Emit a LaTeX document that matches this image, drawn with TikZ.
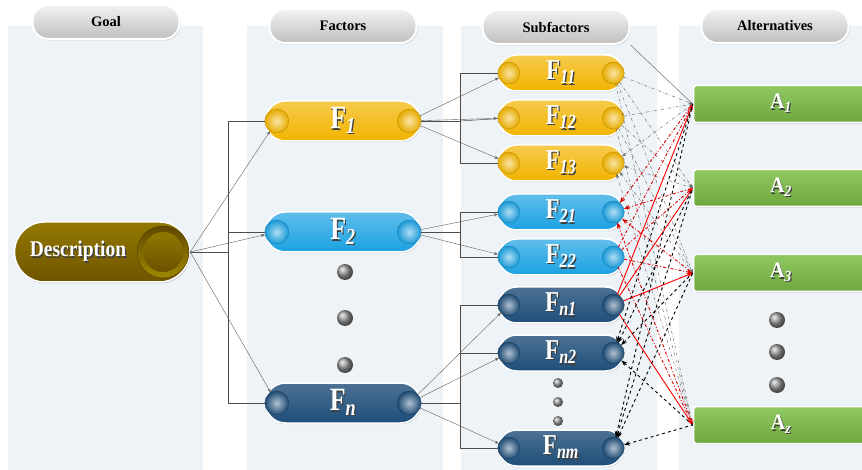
\documentclass[tikz,border=0pt]{standalone}
\usepackage{fontspec}
\usepackage{graphicx}
\setmainfont{Liberation Serif}
\usetikzlibrary{positioning,arrows.meta,shapes.misc,shadows}

\definecolor{panel}{RGB}{238,243,248}
\definecolor{gold}{RGB}{242,180,0}
\definecolor{sky}{RGB}{27,161,226}
\definecolor{navy}{RGB}{31,78,121}
\definecolor{ochre}{RGB}{127,96,0}
\definecolor{leaf}{RGB}{125,190,70}

% white text with a dark shadow behind it
\newcommand{\shadowed}[1]{\leavevmode\rlap{\kern1.2pt\raisebox{-1.2pt}{\textcolor{black!75}{#1}}}#1}
\newcommand{\fsub}[2]{\scalebox{1}[1.25]{\shadowed{#1\textsubscript{\textit{#2}}}}}
\newcommand{\asub}[2]{\scalebox{1}[1.1]{\shadowed{#1\textsubscript{\textit{#2}}}}}

\tikzset{
  header/.style={draw=white, line width=2pt, rounded corners=16pt, top color=gray!10, bottom color=gray!50,
    minimum width=147pt, minimum height=34pt, inner sep=0pt, font=\fontsize{14.5}{16}\selectfont\bfseries,
    drop shadow={opacity=0.35, shadow xshift=1pt, shadow yshift=-1.5pt}},
  factor/.style={rounded rectangle, draw=white, line width=1.5pt, minimum width=155pt, minimum height=40pt,
    inner sep=0pt, text=white, font=\fontsize{26}{26}\selectfont\bfseries,
    drop shadow={opacity=0.3, shadow xshift=0.8pt, shadow yshift=-1.2pt}},
  sub/.style={factor, minimum width=125pt, minimum height=36pt, font=\fontsize{23}{23}\selectfont\bfseries},
  goldp/.style={top color=gold!70!white, bottom color=gold},
  skyp/.style={top color=sky!70!white, bottom color=sky},
  navyp/.style={top color=navy!80!white, bottom color=navy},
  alt/.style={draw=white, line width=1.5pt, rounded corners=3pt, top color=leaf!85!white, bottom color=leaf!88!black,
    minimum width=175pt, minimum height=37pt, inner sep=0pt, text=white, font=\fontsize{20}{20}\selectfont\bfseries,
    drop shadow={opacity=0.3, shadow xshift=0.8pt, shadow yshift=-1.2pt}},
  descbox/.style={rounded rectangle, draw=white, line width=1.5pt, minimum width=175pt, minimum height=60pt,
    inner sep=0pt, top color=ochre!85!yellow, bottom color=ochre!88!black, text=white,
    font=\fontsize{19.5}{20}\selectfont\bfseries, drop shadow={opacity=0.3, shadow xshift=1pt, shadow yshift=-1.5pt}},
  knob/.style={circle, inner sep=0pt},
  dot/.style={circle, inner sep=0pt, minimum size=16pt, ball color=gray!80},
  smalldot/.style={dot, minimum size=10pt},
  link/.style={gray!75!black, line width=0.4pt, -{Stealth[length=4pt,width=3pt]}},
  elbow/.style={black!70, line width=0.5pt},
  meshgrey/.style={black!60, line width=0.45pt, dash dot, -{Stealth[length=4pt,width=3pt]}},
  meshgreyback/.style={meshgrey, {Stealth[length=4pt,width=3pt]}-},
  meshred/.style={red!85!black, line width=0.9pt, dash dot, -{Stealth[length=6pt,width=4.5pt]}},
  meshredback/.style={meshred, {Stealth[length=6pt,width=4.5pt]}-},
  meshsolid/.style={red, line width=0.9pt, -{Stealth[length=6pt,width=4.5pt]}},
  meshblack/.style={black, line width=0.9pt, dashed, {Stealth[length=6pt,width=4.5pt]}-},
}

\begin{document}
\begin{tikzpicture}[x=1pt, y=-1pt]
\useasboundingbox (0,0) rectangle (862,470);

% ---- column panels ----
\fill[panel] (8,26) rectangle (203,470);
\fill[panel] (247,26) rectangle (443,470);
\fill[panel] (461,26) rectangle (657,470);
\fill[panel] (679,26) rectangle (862,470);

% ---- headers ----
\node[header] (hgoal) at (106,22) {Goal};
\node[header] (hfac) at (343,26) {Factors};
\node[header] (hsub) at (556,27) {Subfactors};
\node[header] (halt) at (775,26) {Alternatives};

% ---- goal ----
\node[descbox] (desc) at (102,252) {\scalebox{1}[1.15]{\shadowed{Description}}\kern48pt};
\node[circle, minimum size=52pt, inner sep=0pt, top color=ochre!75!black, bottom color=ochre!75!yellow,
  draw=ochre!60!black] (desc-b) at (163,252) {};
\node[circle, minimum size=40pt, inner sep=0pt, top color=ochre!85!yellow, bottom color=ochre!85!black] (desc-c) at (desc-b) {};

% ---- factors ----
\node[factor, goldp] (f1) at (343,121) {\fsub{F}{1}};
\node[factor, skyp] (f2) at (343,232) {\fsub{F}{2}};
\node[factor, navyp] (fn) at (343,403) {\fsub{F}{n}};
\foreach \y [count=\i] in {272,318,365}
  \node[dot] (fd\i) at (345,\y) {};

% ---- subfactors ----
\node[sub, goldp] (f11) at (561,73) {\fsub{F}{11}};
\node[sub, goldp] (f12) at (561,118) {\fsub{F}{12}};
\node[sub, goldp] (f13) at (561,163) {\fsub{F}{13}};
\node[sub, skyp] (f21) at (561,212) {\fsub{F}{21}};
\node[sub, skyp] (f22) at (561,257) {\fsub{F}{22}};
\node[sub, navyp] (fn1) at (561,305) {\fsub{F}{n1}};
\node[sub, navyp] (fn2) at (561,353) {\fsub{F}{n2}};
\node[sub, navyp] (fnm) at (561,448) {\fsub{F}{nm}};
\foreach \y [count=\i] in {383,402,421}
  \node[smalldot] (sd\i) at (558,\y) {};

% knobs on both ends of every pill
\foreach \n/\c/\s/\o in {f1/gold/24/12, f2/sky/24/12, fn/navy/24/12,
    f11/gold/22/11, f12/gold/22/11, f13/gold/22/11, f21/sky/22/11, f22/sky/22/11,
    fn1/navy/22/11, fn2/navy/22/11, fnm/navy/22/11} {
  \node[knob, minimum size=\s pt, inner color=\c!35!white, outer color=\c!95!black, draw=\c!75!black, line width=0.3pt] (\n-l) at ([xshift=\o pt]\n.west) {};
  \node[knob, minimum size=\s pt, inner color=\c!35!white, outer color=\c!95!black, draw=\c!75!black, line width=0.3pt] (\n-r) at ([xshift=-\o pt]\n.east) {};
}

% ---- alternatives ----
\node[alt] (a1) at (781,104) {\asub{A}{1}};
\node[alt] (a2) at (781,188) {\asub{A}{2}};
\node[alt] (a3) at (781,273) {\asub{A}{3}};
\node[alt] (az) at (781,425) {\asub{A}{z}};
\foreach \y [count=\i] in {320,352,385}
  \node[dot] (ad\i) at (777,\y) {};

% ---- goal to factors ----
\coordinate (gj) at (228,252);
\draw[elbow] (desc.east) -- (gj) |- (f1-l);
\draw[elbow] (gj) |- (fn-l);
\draw[elbow] (gj) |- (f2-l);
\foreach \f in {f1,f2,fn}
  \draw[link] (desc.east) -- (\f-l);

% ---- factors to subfactors ----
\coordinate (j1) at (460,121);
\coordinate (j2) at (460,232);
\coordinate (jn) at (460,403);
\draw[elbow] (f1-r) -- (j1) |- (f11-l);
\draw[elbow] (j1) |- (f13-l);
\draw[elbow] (j1) -- (f12-l);
\draw[elbow] (f2-r) -- (j2) |- (f21-l);
\draw[elbow] (j2) |- (f22-l);
\draw[elbow] (fn-r) -- (jn) |- (fn1-l);
\draw[elbow] (jn) |- (fnm-l);
\draw[elbow] (jn) |- (fn2-l);
\foreach \f/\s in {f1/f11, f1/f12, f1/f13, f2/f21, f2/f22, fn/fn1, fn/fn2, fn/fnm}
  \draw[link] (\f-r) -- (\s-l);

% ---- subfactors to alternatives ----
\draw[gray!70!black, line width=0.4pt] (hsub.south east) -- (a1.west);
\foreach \s/\m in {f11/meshgrey, f12/meshgrey, f13/meshgreyback, f21/meshredback, f22/meshred,
    fn1/meshsolid, fn2/meshblack, fnm/meshblack}
  \foreach \a in {a1,a2,a3,az}
    \draw[\m] (\s-r) -- (\a.west);
\end{tikzpicture}
\end{document}
